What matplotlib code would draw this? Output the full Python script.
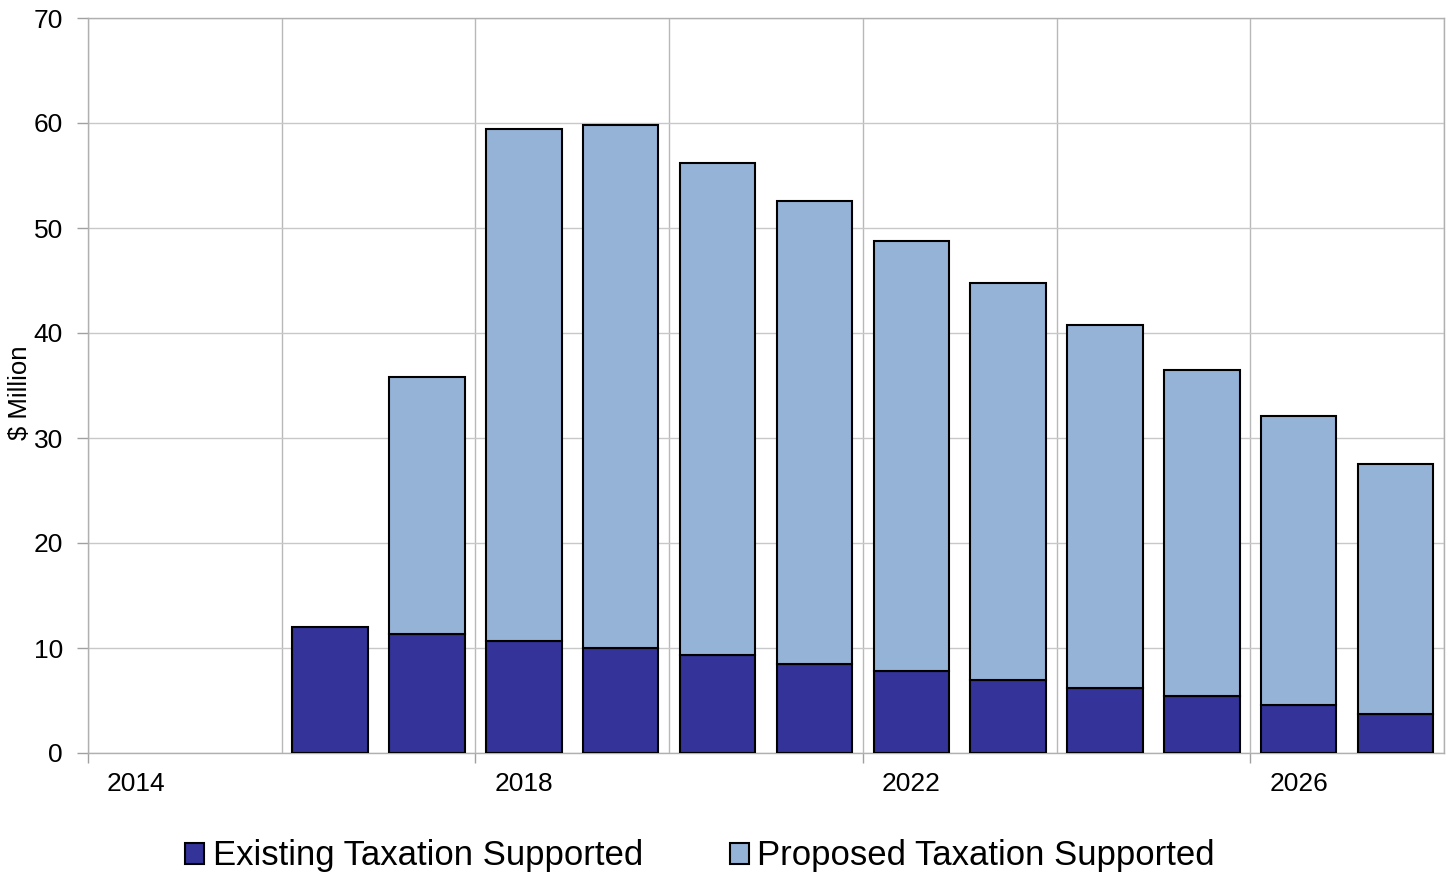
import numpy as np
import matplotlib.pyplot as plt
from matplotlib.ticker import FixedLocator

# Data ($ Million)
years = list(range(2014, 2028))
existing = [0, 0, 12.0, 11.3, 10.7, 10.0, 9.3, 8.5, 7.8, 7.0, 6.2, 5.4, 4.6, 3.7]
proposed = [0, 0, 0, 24.5, 48.7, 49.8, 46.9, 44.1, 41.0, 37.8, 34.6, 31.1, 27.5, 23.8]
label_years = [2014, 2018, 2022, 2026]

plt.rcParams["font.family"] = ["Liberation Sans", "DejaVu Sans"]

fig = plt.figure(figsize=(14.51, 8.75), dpi=100)
ax = fig.add_axes([88/1451, 122/875, 1356/1451, 735/875])

x = np.arange(len(years))
ex = np.array(existing)
pr = np.array(proposed)

m1 = ex > 0
ax.bar(x[m1], ex[m1], width=0.78, color='#333399', edgecolor='black', linewidth=1.5,
       label='Existing Taxation Supported', zorder=3)
m2 = pr > 0
ax.bar(x[m2], pr[m2], bottom=ex[m2], width=0.78, color='#95B3D7',
       edgecolor='black', linewidth=1.5, label='Proposed Taxation Supported', zorder=3)

ax.set_xlim(-0.5, len(years) - 0.5)
ax.set_ylim(0, 70)
ax.set_yticks(np.arange(0, 71, 10))

# vertical gridlines every 2 categories, tick marks every 4
ax.xaxis.set_major_locator(FixedLocator(np.arange(-0.5, len(years), 4)))
ax.set_xticklabels([])
ax.xaxis.set_minor_locator(FixedLocator([years.index(y) for y in label_years]))
ax.set_xticklabels([str(y) for y in label_years], minor=True)
for xv in np.arange(-0.5, len(years), 2):
    ax.axvline(xv, color='#b8b8b8', linewidth=1, zorder=1)
ax.grid(axis='y', color='#c8c8c8', linewidth=1, zorder=1)

ax.tick_params(axis='x', which='major', length=7, color='#a0a0a0', width=1)
ax.tick_params(axis='x', which='minor', length=0, labelsize=19, pad=14)
ax.tick_params(axis='y', length=8, color='#a0a0a0', width=1, labelsize=19, pad=10)

for s in ax.spines.values():
    s.set_color('#b0b0b0')
    s.set_linewidth(1)

ax.set_ylabel('$ Million', fontsize=18.5)
ax.yaxis.set_label_coords(-0.041, 0.49)

handles, labels = ax.get_legend_handles_labels()
fig.legend(handles, labels, loc='center', bbox_to_anchor=(700/1451, 1 - 856/875),
           ncol=2, frameon=False, fontsize=25, handlelength=0.55, handleheight=0.55,
           handletextpad=0.25, columnspacing=2.5)

fig.savefig('out.png', dpi=100)
